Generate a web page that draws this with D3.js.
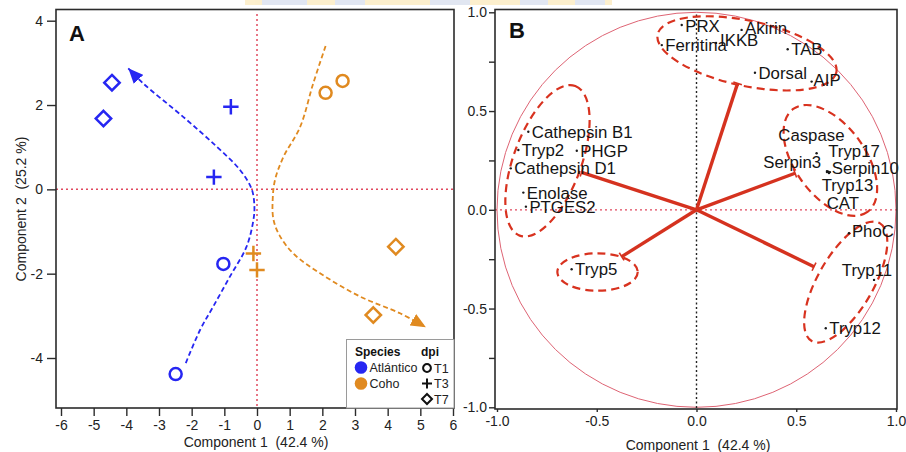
<!DOCTYPE html>
<html>
<head>
<meta charset="utf-8">
<script src="https://cdn.jsdelivr.net/npm/d3@7"></script>
<style>
  body { margin: 0; background: #fff; }
  svg { display: block; font-family: "Liberation Sans", Arial, Helvetica, sans-serif; }
  text { white-space: pre; }
</style>
</head>
<body>
<svg id="fig" width="906" height="452"></svg>
<script>
// ---------- Panel A: PCA scores ----------
const speciesNames = ["Atlántico", "Coho"];
const dpiLevels = ["T1", "T3", "T7"];
const scoreSpecies = ["Atlántico", "Atlántico", "Atlántico", "Atlántico", "Atlántico", "Atlántico",
                      "Coho", "Coho", "Coho", "Coho", "Coho", "Coho"];
const scoreDpi = ["T1", "T1", "T3", "T3", "T7", "T7", "T1", "T1", "T3", "T3", "T7", "T7"];
const scorePC1 = [-1.03, -2.49, -0.80, -1.32, -4.44, -4.70, 2.10, 2.62, -0.11, 0.00, 4.25, 3.56];
const scorePC2 = [-1.77, -4.38, 1.96, 0.29, 2.53, 1.68, 2.29, 2.57, -1.52, -1.91, -1.36, -2.98];

// Time trajectories (dashed arrows), start -> arrow tip
const atlanticoTrendPC1 = [-2.18, -1.74, -1.34, -0.83, -0.32, -0.11, -0.08, -0.16, -0.52, -1.23, -2.26, -3.48, -3.94];
const atlanticoTrendPC2 = [-4.12, -3.33, -2.78, -2.07, -1.36, -0.73, -0.41, 0.00, 0.46, 1.01, 1.72, 2.51, 2.87];
const cohoTrendPC1 = [2.10, 1.72, 1.32, 0.81, 0.55, 0.48, 0.50, 0.68, 1.11, 1.93, 3.15, 4.38, 5.17];
const cohoTrendPC2 = [3.40, 2.51, 1.48, 0.77, 0.22, -0.25, -0.70, -1.08, -1.52, -1.99, -2.54, -2.94, -3.27];

const ticksAx = [-6, -5, -4, -3, -2, -1, 0, 1, 2, 3, 4, 5, 6];
const ticksAy = [-4, -2, 0, 2, 4];

// ---------- Panel B: loadings ----------
const loadingNames = ["PRX", "Ferritina", "IKKB", "Akirin", "TAB", "Dorsal", "AIP",
  "Cathepsin B1", "Tryp2", "PHGP", "Cathepsin D1", "Enolase", "PTGES2",
  "Caspase", "Tryp17", "Serpin3", "Serpin10", "Tryp13", "CAT",
  "PhoC", "Tryp11", "Tryp12", "Tryp5"];
const loadingPC1 = [-0.074, -0.174, 0.098, 0.226, 0.457, 0.293, 0.577,
  -0.843, -0.893, -0.600, -0.931, -0.868, -0.855,
  0.654, 0.602, 0.654, 0.661, 0.664, 0.669,
  0.764, 0.890, 0.648, -0.626];
const loadingPC2 = [0.936, 0.834, 0.845, 0.911, 0.813, 0.694, 0.649,
  0.395, 0.303, 0.299, 0.210, 0.087, 0.016,
  0.196, 0.286, 0.191, 0.193, 0.186, 0.191,
  -0.119, -0.355, -0.600, -0.301];

// Group mean vectors (solid red spokes)
const groupVecPC1 = [0.206, -0.576, 0.494, -0.375, 0.589];
const groupVecPC2 = [0.640, 0.190, 0.185, -0.237, -0.288];

// Group ellipses: centre, semi-axes (loading units) and tilt (degrees)
const groupCx = [0.253, -0.747, 0.671, -0.496, 0.748];
const groupCy = [0.792, 0.248, 0.250, -0.315, -0.366];
const groupA = [0.458, 0.400, 0.318, 0.2015, 0.341];
const groupB = [0.165, 0.171, 0.178, 0.0947, 0.140];
const groupTilt = [-12, 69.6, -54.2, 0, 60];

const ticksB = [-1.0, -0.5, 0.0, 0.5, 1.0];
const minorTicksB = [-0.75, -0.25, 0.25, 0.75];

// Label placement (pixels from the loading point to the label start / mid-height)
const labelShift = {
  "PRX": [3.5, 1.5], "IKKB": [4, -3], "Akirin": [3.5, -2], "AIP": [2, -1.5],
  "Caspase": [-48.7, -36], "Tryp17": [11.6, -2.3], "Serpin3": [-63.7, -10],
  "Serpin10": [3.4, -3.4], "Tryp13": [-7.3, 12], "CAT": [-3.3, 31.3],
  "PhoC": [3, -2], "Tryp11": [-32.3, -10]
};

// ---------- styles ----------
const BLUE = "#2626f2", ORANGE = "#e08a20", FRAME = "#2b2b2b";
const REF_RED = "#e0485e", SPOKE = "#d5321f", ELL = "#d8321f", UNIT = "#de6474";
const colorOf = { "Atlántico": BLUE, "Coho": ORANGE };

const svg = d3.select("#fig");
svg.append("rect").attr("width", 906).attr("height", 452).attr("fill", "#fff");

// faint strip along the top edge
const strip = svg.append("g").attr("opacity", 0.55);
strip.append("rect").attr("x", 245).attr("y", 0).attr("width", 367).attr("height", 5).attr("fill", "#fbe3a6");
[[262, 45], [335, 30], [430, 40], [520, 28], [575, 30]].forEach(([x, w]) =>
  strip.append("rect").attr("x", x).attr("y", 0).attr("width", w).attr("height", 5).attr("fill", "#c9d3e6"));

const defs = svg.append("defs");
function arrowMarker(id, color) {
  defs.append("marker").attr("id", id)
    .attr("markerUnits", "userSpaceOnUse")
    .attr("viewBox", "0 0 15 13").attr("markerWidth", 15).attr("markerHeight", 13)
    .attr("refX", 15).attr("refY", 6.5).attr("orient", "auto")
    .append("path").attr("d", "M0,0 L15,6.5 L0,13 Z").attr("fill", color);
}
arrowMarker("arrBlue", BLUE);
arrowMarker("arrOrange", ORANGE);

// =================== PANEL A ===================
const A = { left: 56, right: 454, top: 9.5, bottom: 408 };
const xA = d3.scaleLinear().domain([-6, 6]).range([61, 453]);
const yA = d3.scaleLinear().domain([-4, 4]).range([358, 20.7]);
const gA = svg.append("g");

// reference lines through the origin
gA.append("line").attr("x1", xA(0)).attr("x2", xA(0)).attr("y1", 14).attr("y2", A.bottom)
  .attr("stroke", REF_RED).attr("stroke-width", 1.5).attr("stroke-dasharray", "2,3");
gA.append("line").attr("x1", A.left).attr("x2", A.right).attr("y1", yA(0)).attr("y2", yA(0))
  .attr("stroke", REF_RED).attr("stroke-width", 1.5).attr("stroke-dasharray", "2,3");

// trajectories
const trendLine = d3.line().x(d => xA(d[0])).y(d => yA(d[1])).curve(d3.curveCatmullRom.alpha(0.5));
gA.append("path").datum(d3.zip(atlanticoTrendPC1, atlanticoTrendPC2)).attr("d", trendLine)
  .attr("fill", "none").attr("stroke", BLUE).attr("stroke-width", 1.8).attr("stroke-dasharray", "5,3")
  .attr("marker-end", "url(#arrBlue)");
gA.append("path").datum(d3.zip(cohoTrendPC1, cohoTrendPC2)).attr("d", trendLine)
  .attr("fill", "none").attr("stroke", ORANGE).attr("stroke-width", 1.8).attr("stroke-dasharray", "5,3")
  .attr("marker-end", "url(#arrOrange)");

// symbol shapes per dpi
function circlePath(r) { return `M${r},0A${r},${r} 0 1,1 ${-r},0A${r},${r} 0 1,1 ${r},0Z`; }
function markPath(dpi, s) {
  if (dpi === "T1") return circlePath(s * 0.78);
  if (dpi === "T3") return `M${-s},0H${s}M0,${-s}V${s}`;
  return `M0,${-s}L${s},0L0,${s}L${-s},0Z`;
}

gA.selectAll("path.score").data(d3.range(scorePC1.length)).join("path")
  .attr("class", "score")
  .attr("transform", i => `translate(${xA(scorePC1[i])},${yA(scorePC2[i])})`)
  .attr("d", i => markPath(scoreDpi[i], 7.7))
  .attr("fill", "none").attr("stroke", i => colorOf[scoreSpecies[i]]).attr("stroke-width", 2.5);

// frame
gA.append("rect").attr("x", A.left).attr("y", A.top).attr("width", A.right - A.left).attr("height", A.bottom - A.top)
  .attr("fill", "none").attr("stroke", FRAME).attr("stroke-width", 1.6);

// axes
const axA_x = gA.append("g").attr("transform", `translate(0,${A.bottom})`)
  .call(d3.axisBottom(xA).tickValues(ticksAx).tickSize(8).tickPadding(4).tickFormat(d => String(d)));
const axA_y = gA.append("g").attr("transform", `translate(${A.left},0)`)
  .call(d3.axisLeft(yA).tickValues(ticksAy).tickSize(9).tickPadding(4).tickFormat(d => String(d)));
[axA_x, axA_y].forEach(ax => {
  ax.select(".domain").remove();
  ax.selectAll("line").attr("stroke", FRAME).attr("stroke-width", 1.4);
  ax.selectAll("text").attr("font-size", 14).attr("fill", "#222").attr("font-family", "Liberation Sans, Arial, sans-serif");
});

gA.append("text").attr("x", 256).attr("y", 447).attr("text-anchor", "middle").attr("font-size", 14).attr("fill", "#222")
  .text("Component 1  (42.4 %)");
gA.append("text").attr("transform", "translate(26,209) rotate(-90)").attr("text-anchor", "middle")
  .attr("font-size", 14).attr("fill", "#222").text("Component 2  (25.2 %)");
gA.append("text").attr("x", 69).attr("y", 41).attr("font-size", 22).attr("font-weight", "bold").attr("fill", "#111").text("A");

// legend
const lg = gA.append("g");
lg.append("rect").attr("x", 346.5).attr("y", 339.5).attr("width", 107.5).attr("height", 68.5)
  .attr("fill", "#fff").attr("stroke", "#9a9a9a").attr("stroke-width", 1);
lg.append("text").attr("x", 355).attr("y", 356).attr("font-size", 12).attr("font-weight", "bold").attr("fill", "#111").text("Species");
lg.append("text").attr("x", 421).attr("y", 356).attr("font-size", 12).attr("font-weight", "bold").attr("fill", "#111").text("dpi");
speciesNames.forEach((sp, i) => {
  const cy = 367.5 + i * 16;
  lg.append("circle").attr("cx", 361).attr("cy", cy).attr("r", 6.3).attr("fill", colorOf[sp]);
  lg.append("text").attr("x", 369.5).attr("y", cy + 4.5).attr("font-size", 12.5).attr("fill", "#222").text(sp);
});
dpiLevels.forEach((d, i) => {
  const cy = 368 + i * 15.5;
  lg.append("path").attr("transform", `translate(427,${cy})`).attr("d", markPath(d, 5))
    .attr("fill", "none").attr("stroke", "#111").attr("stroke-width", 2);
  lg.append("text").attr("x", 434).attr("y", cy + 4.5).attr("font-size", 12.5).attr("fill", "#222").text(d);
});

// =================== PANEL B ===================
const B = { left: 495, right: 897, top: 9.5, bottom: 409 };
const xB = d3.scaleLinear().domain([-1, 1]).range([497, 896]);
const yB = d3.scaleLinear().domain([-1, 1]).range([407.3, 12.3]);
const gB = svg.append("g");

// unit circle
gB.append("ellipse").attr("cx", xB(0)).attr("cy", yB(0))
  .attr("rx", xB(1) - xB(0)).attr("ry", yB(0) - yB(1))
  .attr("fill", "none").attr("stroke", UNIT).attr("stroke-width", 1);

// reference lines
gB.append("line").attr("x1", xB(0)).attr("x2", xB(0)).attr("y1", B.top + 5).attr("y2", B.bottom)
  .attr("stroke", "#222").attr("stroke-width", 1.4).attr("stroke-dasharray", "2,2.5");
gB.append("line").attr("x1", B.left).attr("x2", B.right).attr("y1", yB(0)).attr("y2", yB(0))
  .attr("stroke", REF_RED).attr("stroke-width", 1.3).attr("stroke-dasharray", "2,3");

// group ellipses
const sxB = xB(1) - xB(0), syB = yB(0) - yB(1);
gB.selectAll("ellipse.grp").data(d3.range(groupCx.length)).join("ellipse")
  .attr("class", "grp")
  .attr("transform", i => `translate(${xB(groupCx[i])},${yB(groupCy[i])}) rotate(${-groupTilt[i]})`)
  .attr("rx", i => groupA[i] * sxB).attr("ry", i => groupB[i] * syB)
  .attr("fill", "none").attr("stroke", ELL).attr("stroke-width", 2.2).attr("stroke-dasharray", "8,5");

// spokes with small end caps
d3.range(groupVecPC1.length).forEach(i => {
  const x1 = xB(groupVecPC1[i]), y1 = yB(groupVecPC2[i]);
  gB.append("line").attr("x1", xB(0)).attr("y1", yB(0)).attr("x2", x1).attr("y2", y1)
    .attr("stroke", SPOKE).attr("stroke-width", 3.4);
  const dx = x1 - xB(0), dy = y1 - yB(0), L = Math.hypot(dx, dy);
  const px = -dy / L * 4.5, py = dx / L * 4.5;
  gB.append("line").attr("x1", x1 - px).attr("y1", y1 - py).attr("x2", x1 + px).attr("y2", y1 + py)
    .attr("stroke", SPOKE).attr("stroke-width", 1.6);
});

// loading points and labels
loadingNames.forEach((name, i) => {
  const px = xB(loadingPC1[i]), py = yB(loadingPC2[i]);
  const [dx, dy] = labelShift[name] || [3.5, 0];
  gB.append("circle").attr("cx", px).attr("cy", py).attr("r", 1.2).attr("fill", "#1a1a1a");
  gB.append("text").attr("x", px + dx).attr("y", py + dy).attr("dy", "0.36em")
    .attr("font-size", 16.8).attr("fill", "#141414").text(name);
});

// frame
gB.append("rect").attr("x", B.left).attr("y", B.top).attr("width", B.right - B.left).attr("height", B.bottom - B.top)
  .attr("fill", "none").attr("stroke", FRAME).attr("stroke-width", 1.6);

// axes
const axB_x = gB.append("g").attr("transform", `translate(0,${B.bottom})`)
  .call(d3.axisBottom(xB).tickValues(ticksB).tickSize(3).tickPadding(4).tickFormat(d => d.toFixed(1)));
const axB_y = gB.append("g").attr("transform", `translate(${B.left},0)`)
  .call(d3.axisLeft(yB).tickValues(ticksB).tickSize(6).tickPadding(2).tickFormat(d => d.toFixed(1)));
const axB_minor = gB.append("g").attr("transform", `translate(${B.left},0)`)
  .call(d3.axisLeft(yB).tickValues(minorTicksB).tickSize(6).tickFormat(""));
[axB_x, axB_y, axB_minor].forEach(ax => {
  ax.select(".domain").remove();
  ax.selectAll("line").attr("stroke", FRAME).attr("stroke-width", 1.4);
  ax.selectAll("text").attr("font-size", 14).attr("fill", "#222").attr("font-family", "Liberation Sans, Arial, sans-serif");
});

gB.append("text").attr("x", 698).attr("y", 450).attr("text-anchor", "middle").attr("font-size", 14).attr("fill", "#222")
  .text("Component 1  (42.4 %)");
gB.append("text").attr("x", 509).attr("y", 38).attr("font-size", 22).attr("font-weight", "bold").attr("fill", "#111").text("B");
</script>
</body>
</html>
